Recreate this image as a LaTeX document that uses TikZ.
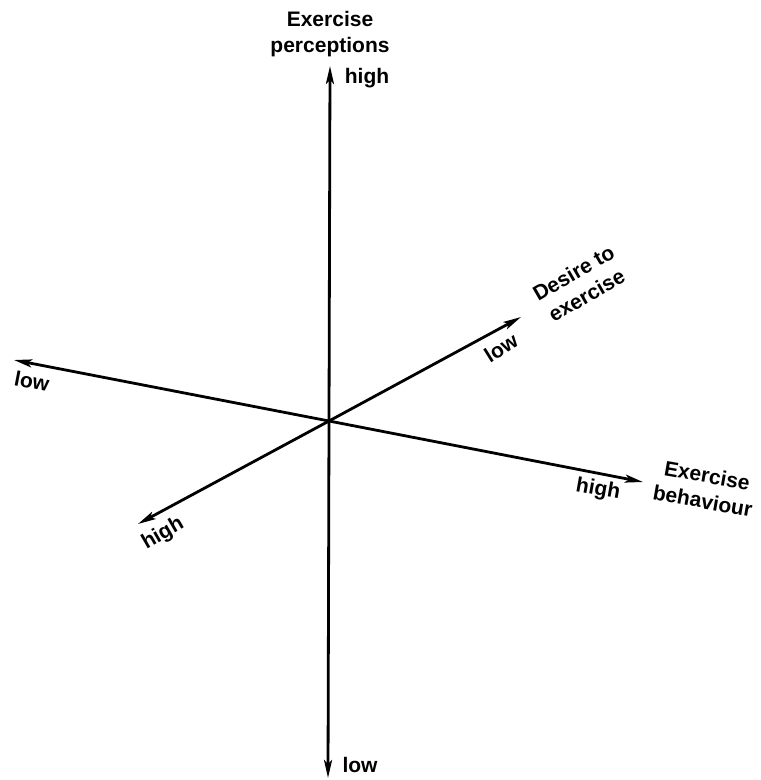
\documentclass[tikz,border=0pt]{standalone}
\usepackage{fontspec}
\setmainfont{Liberation Sans}
\usetikzlibrary{arrows.meta}
\begin{document}
\begin{tikzpicture}[x=1pt,y=-1pt,
  axis/.style={line width=2.8pt,-{Stealth[length=18pt,width=8pt,inset=4pt]}},
  lbl/.style={font=\bfseries\fontsize{21}{26}\selectfont,inner sep=0pt,align=center}]
\useasboundingbox (0,0) rectangle (761,780);
\coordinate (O) at (329,421);
\coordinate (top) at (330,66);
\coordinate (bot) at (328,778);
\coordinate (left) at (14,360);
\coordinate (right) at (643,482);
\coordinate (ur) at (521,317);
\coordinate (ll) at (138,524);
\draw[axis] (O) -- (top);
\draw[axis] (O) -- (bot);
\draw[axis] (O) -- (left);
\draw[axis] (O) -- (right);
\draw[axis] (O) -- (ur);
\draw[axis] (O) -- (ll);
\node[lbl] (tp) at (330,34) {Exercise\\perceptions};
\node[lbl] (th) at (367,78) {high};
\node[lbl] (bl) at (360,765) {low};
\node[lbl,rotate=-11] (ll1) at (32,381) {low};
\node[lbl,rotate=-10] (rh) at (598,490) {high};
\node[lbl,rotate=-10] (rb) at (705,488) {Exercise\\behaviour};
\node[lbl,rotate=32] (ul) at (501,348) {low};
\node[lbl,rotate=30] (ud) at (580,284) {Desire to\\exercise};
\node[lbl,rotate=30] (lh) at (163,534) {high};
\end{tikzpicture}
\end{document}
